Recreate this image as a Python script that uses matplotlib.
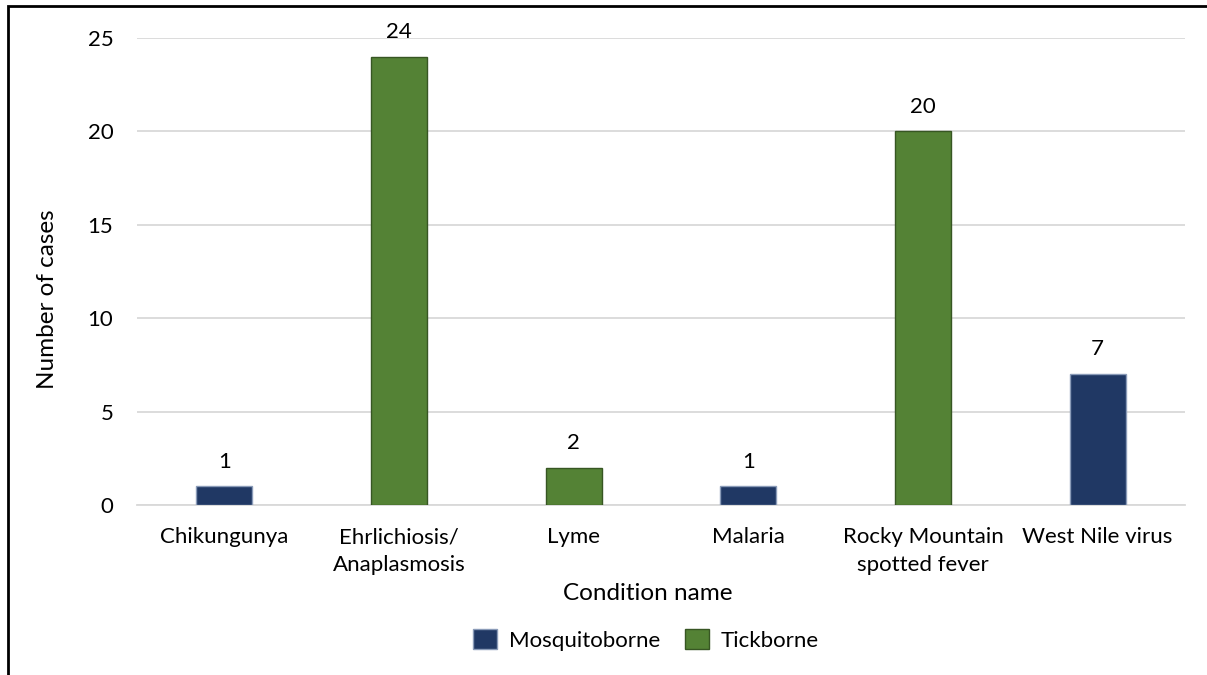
import matplotlib
matplotlib.use("Agg")
import matplotlib.pyplot as plt
from matplotlib.patches import Rectangle, Patch

categories = ["Chikungunya", "Ehrlichiosis/\nAnaplasmosis", "Lyme", "Malaria",
              "Rocky Mountain\nspotted fever", "West Nile virus"]
values = [1, 24, 2, 1, 20, 7]
groups = ["Mosquitoborne", "Tickborne", "Tickborne", "Mosquitoborne", "Tickborne", "Mosquitoborne"]
yticks = [0, 5, 10, 15, 20, 25]

face = {"Mosquitoborne": "#203864", "Tickborne": "#548235"}
edge = {"Mosquitoborne": "#8a9bb8", "Tickborne": "#375623"}

plt.rcParams['font.family'] = ['Lato', 'DejaVu Sans']
W, H = 1207, 675
fig = plt.figure(figsize=(W / 100, H / 100), dpi=100)
ax = fig.add_axes([137 / W, 1 - 505 / H, (1185 - 137) / W, (505 - 38) / H])

x = list(range(len(categories)))
for xi, v, g in zip(x, values, groups):
    ax.bar(xi, v, width=0.32, color=face[g], edgecolor=edge[g], linewidth=1.0, zorder=3)
    ax.annotate(str(v), (xi, v), xytext=(0, 13.5), textcoords="offset points",
                ha="center", va="baseline", fontsize=16, color="#000000")

ax.set_xlim(-0.5, len(categories) - 0.5)
ax.set_ylim(0, 25)
ax.set_yticks(yticks)
ax.set_xticks(x)
ax.set_xticklabels(categories, fontsize=16, linespacing=1.5)
ax.tick_params(axis='y', length=0, pad=17, labelsize=16)
ax.tick_params(axis='x', length=0, pad=16)
ax.grid(axis='y', color='#d9d9d9', linewidth=1.3, zorder=0)
for s in ["top", "right", "left"]:
    ax.spines[s].set_visible(False)
ax.spines["bottom"].set_color("#d9d9d9")
ax.spines["bottom"].set_linewidth(1.3)

ax.set_ylabel("Number of cases", fontsize=17.5, va="center", ha="center")
ax.yaxis.set_label_coords((48 - 137) / 1048, (505 - 299) / 467)
ax.set_xlabel("Condition name", fontsize=17.5, va="center", ha="center")
ax.xaxis.set_label_coords((648 - 137) / 1048, -(593 - 505) / 467)

handles = [Patch(facecolor=face[g], edgecolor=edge[g], label=g) for g in ["Mosquitoborne", "Tickborne"]]
fig.legend(handles=handles, loc="center", bbox_to_anchor=(646 / W, 1 - 640 / H), ncol=2,
           frameon=False, fontsize=16, handlelength=1.08, handleheight=0.95, columnspacing=1.1,
           handletextpad=0.55, borderpad=0.0)

fig.patches.append(Rectangle((8 / W, -0.1), 1.2, 1 - 6 / H + 0.1, transform=fig.transFigure,
                             fill=False, edgecolor="black", linewidth=2.0))

fig.savefig("out.png", dpi=100)
